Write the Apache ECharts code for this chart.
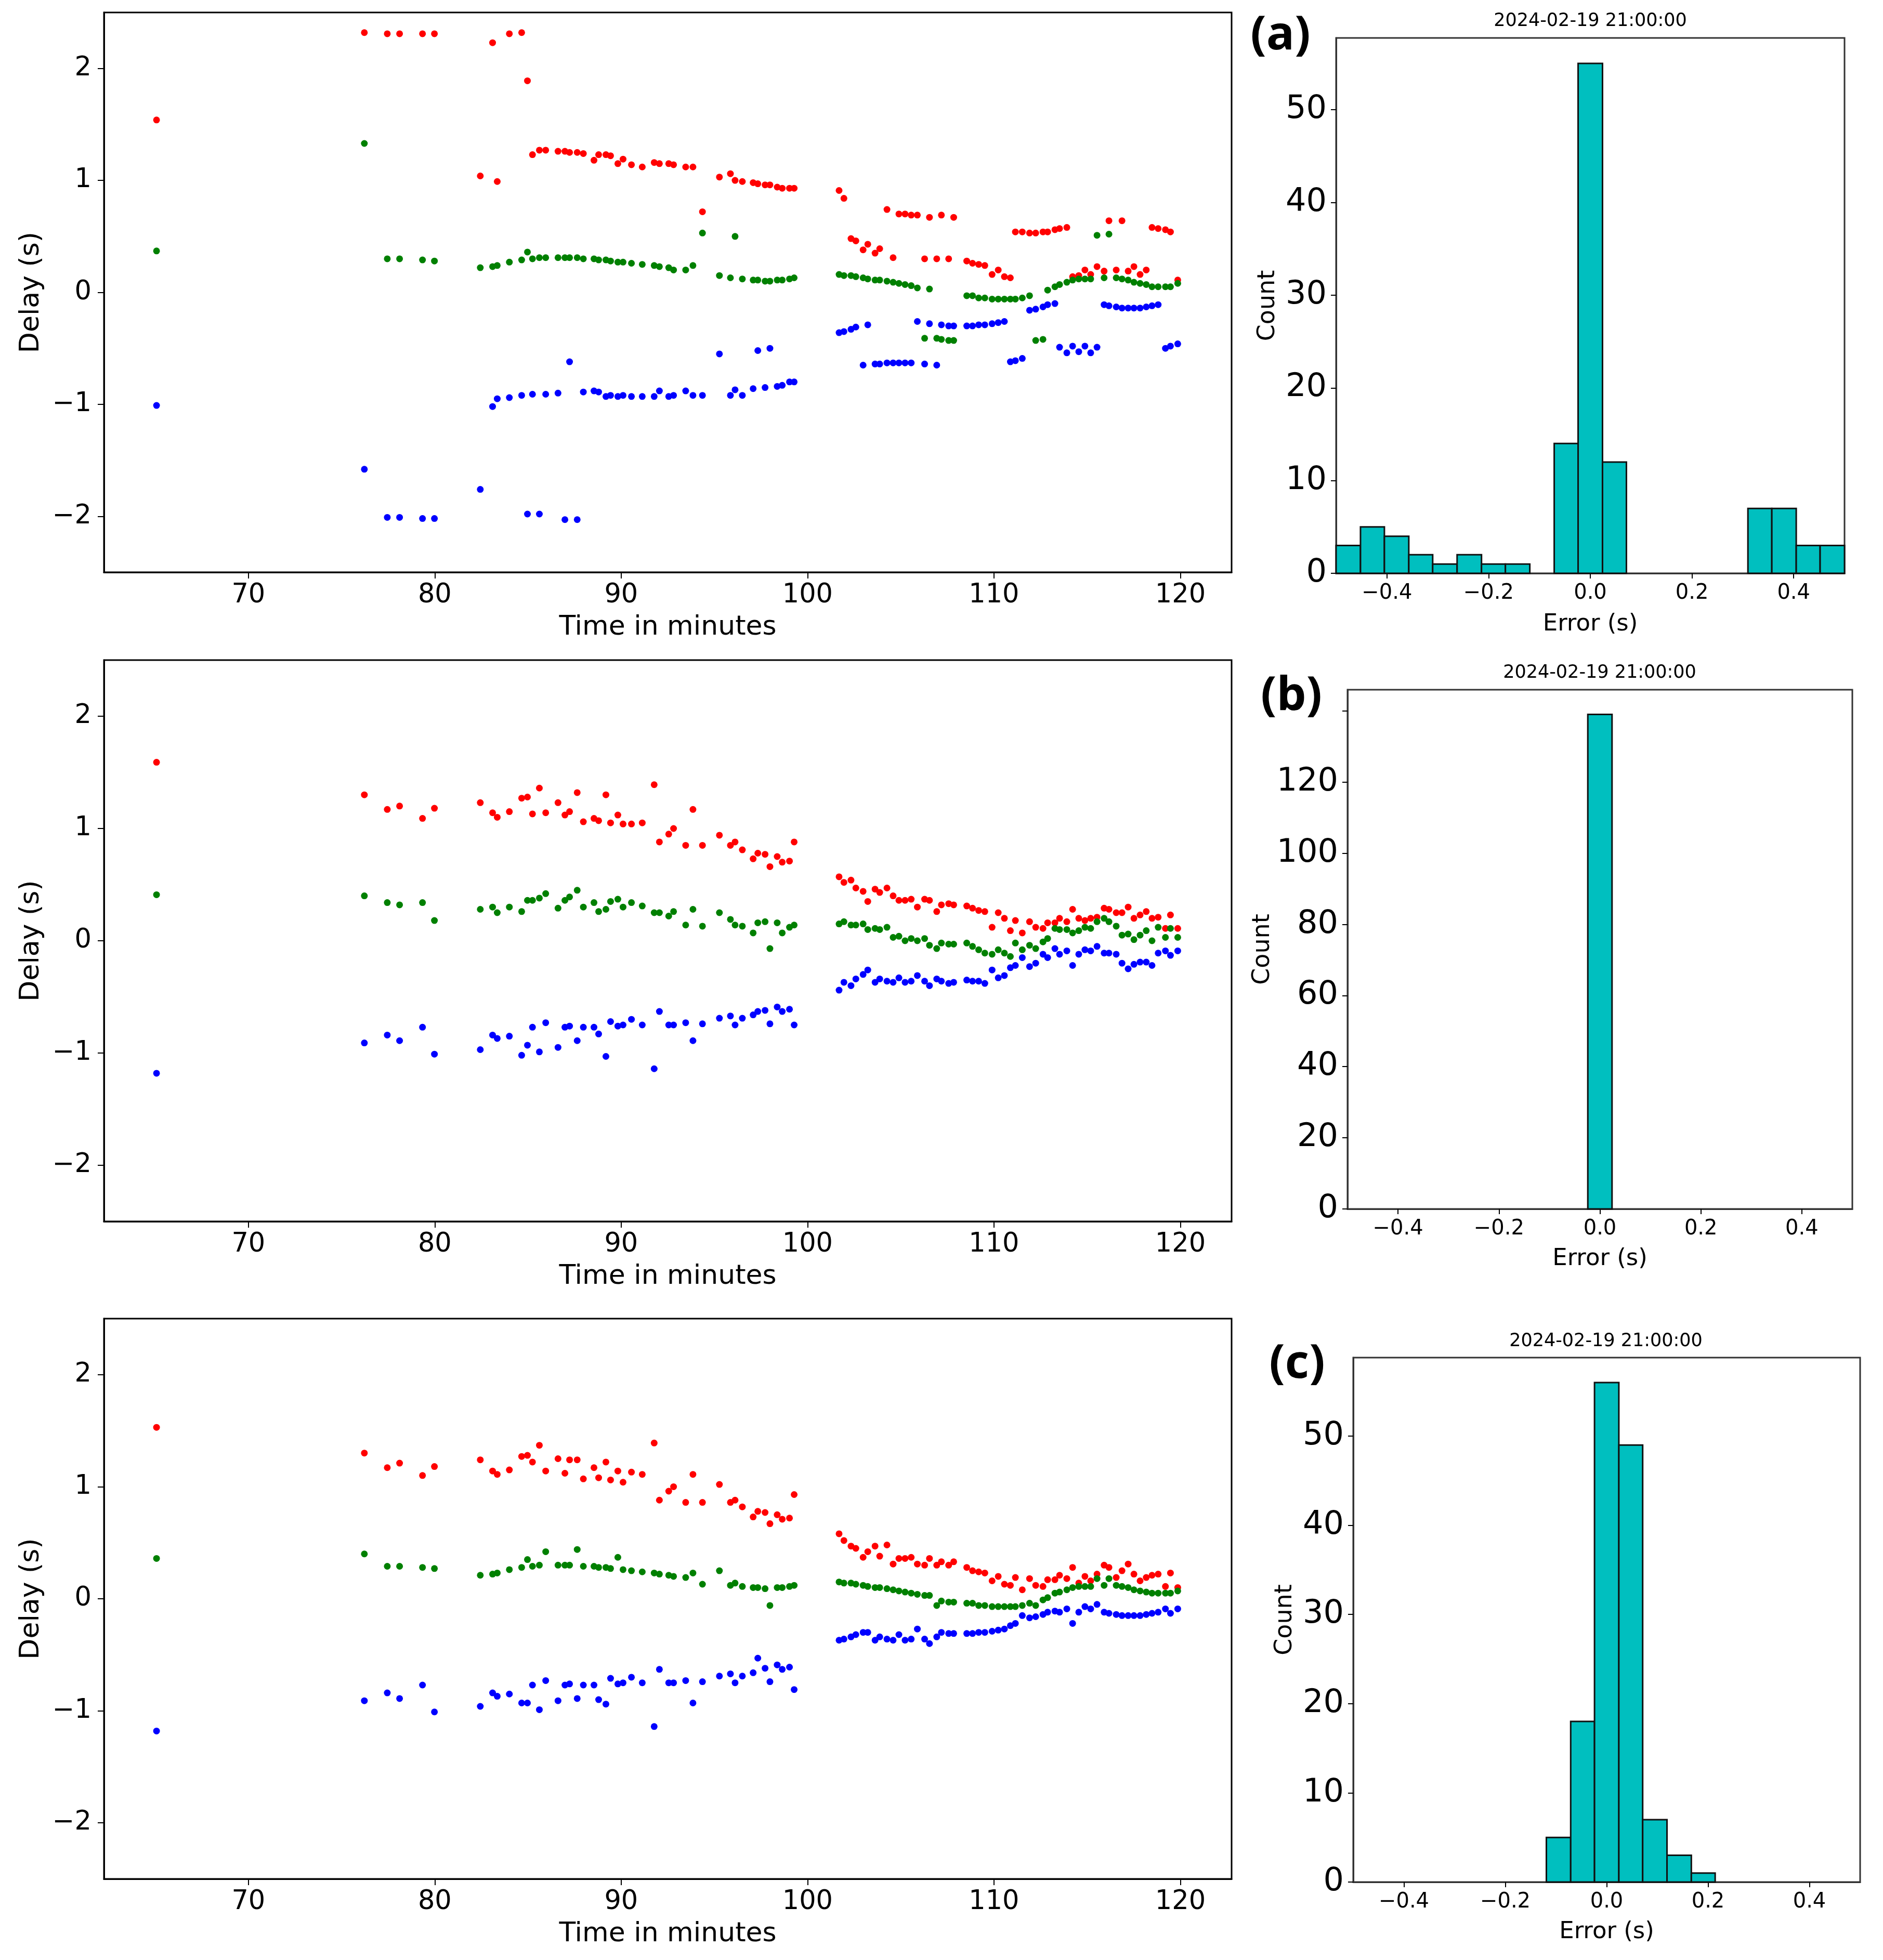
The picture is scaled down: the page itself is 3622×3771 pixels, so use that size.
<!DOCTYPE html>
<html>
<head>
    <meta charset="utf-8">
    <title>Delay and error</title>
    <script src="https://cdn.jsdelivr.net/npm/echarts@6/dist/echarts.min.js"></script>
    <style>
        html, body { margin: 0; padding: 0; background: #fff; }
        #main { width: 3622px; height: 3771px; }
    </style>
</head>
<body>
<div id="main"></div>
<script type="text/javascript">
    // time stamps (minutes), shared by every panel
    var time = [65.07,76.22,77.45,78.11,79.34,79.98,82.44,83.10,83.35,84.00,84.66,84.97,85.24,85.61,85.95,86.61,86.98,87.23,87.64,87.97,
        88.54,88.79,89.18,89.43,89.82,90.10,90.55,91.13,91.77,92.05,92.55,92.81,93.46,93.85,94.36,95.27,95.86,96.11,96.50,97.08,
        97.33,97.72,97.98,98.37,98.64,99.03,99.28,101.69,101.95,102.33,102.59,102.98,103.23,103.62,103.87,104.26,104.59,104.90,105.23,105.56,
        105.89,106.28,106.54,106.93,107.18,107.57,107.84,108.54,108.85,109.18,109.51,109.90,110.23,110.56,110.88,111.15,111.52,111.91,112.24,112.63,
        112.88,113.27,113.52,113.91,114.22,114.55,114.88,115.19,115.53,115.91,116.17,116.56,116.87,117.20,117.51,117.84,118.17,118.48,118.81,119.20,
        119.47,119.86];

    // panel (a)
    var red1 = [1.54,2.32,2.31,2.31,2.31,2.31,1.04,2.23,0.99,2.31,2.32,1.89,1.23,1.27,1.27,1.26,1.26,1.25,1.25,1.24,
        1.18,1.23,1.23,1.22,1.15,1.19,1.14,1.12,1.16,1.15,1.15,1.14,1.12,1.12,0.72,1.03,1.06,1.00,0.99,0.98,
        0.97,0.96,0.96,0.94,0.93,0.93,0.93,0.91,0.84,0.48,0.46,0.38,0.43,0.35,0.39,0.74,0.31,0.70,0.70,0.69,
        0.69,0.30,0.67,0.30,0.69,0.30,0.67,0.28,0.26,0.25,0.24,0.16,0.20,0.14,0.13,0.54,0.54,0.53,0.53,0.54,
        0.54,0.56,0.57,0.58,0.14,0.15,0.20,0.16,0.23,0.19,0.64,0.20,0.64,0.19,0.23,0.16,0.20,0.58,0.57,0.56,
        0.54,0.11];
    var green1 = [0.37,1.33,0.30,0.30,0.29,0.28,0.22,0.23,0.24,0.27,0.29,0.36,0.30,0.31,0.31,0.31,0.31,0.31,0.31,0.30,
        0.30,0.29,0.29,0.28,0.27,0.27,0.26,0.25,0.24,0.23,0.22,0.20,0.20,0.24,0.53,0.15,0.13,0.50,0.12,0.11,
        0.11,0.10,0.10,0.11,0.11,0.12,0.13,0.16,0.15,0.15,0.14,0.13,0.12,0.11,0.11,0.10,0.09,0.08,0.07,0.06,
        0.04,-0.41,0.03,-0.41,-0.42,-0.43,-0.43,-0.03,-0.03,-0.05,-0.05,-0.06,-0.06,-0.06,-0.06,-0.06,-0.05,-0.03,-0.43,-0.42,
        0.02,0.05,0.07,0.09,0.11,0.12,0.12,0.12,0.51,0.13,0.52,0.13,0.12,0.11,0.09,0.08,0.07,0.05,0.05,0.05,
        0.05,0.08];
    var blue1 = [-1.01,-1.58,-2.01,-2.01,-2.02,-2.02,-1.76,-1.02,-0.95,-0.94,-0.92,-1.98,-0.91,-1.98,-0.91,-0.90,-2.03,-0.62,-2.03,-0.89,
        -0.88,-0.89,-0.93,-0.92,-0.93,-0.92,-0.93,-0.93,-0.93,-0.88,-0.93,-0.92,-0.88,-0.92,-0.92,-0.55,-0.92,-0.87,-0.92,-0.86,
        -0.52,-0.85,-0.50,-0.84,-0.83,-0.80,-0.80,-0.36,-0.35,-0.33,-0.31,-0.65,-0.29,-0.64,-0.64,-0.63,-0.63,-0.63,-0.63,-0.63,
        -0.26,-0.64,-0.28,-0.65,-0.29,-0.30,-0.30,-0.30,-0.30,-0.29,-0.29,-0.28,-0.27,-0.26,-0.62,-0.61,-0.59,-0.16,-0.15,-0.13,
        -0.11,-0.10,-0.49,-0.54,-0.48,-0.53,-0.48,-0.54,-0.49,-0.11,-0.12,-0.13,-0.14,-0.14,-0.14,-0.14,-0.13,-0.12,-0.11,-0.50,
        -0.48,-0.46];

    // panel (b)
    var red2 = [1.59,1.30,1.17,1.20,1.09,1.18,1.23,1.14,1.10,1.15,1.27,1.28,1.13,1.36,1.14,1.23,1.12,1.15,1.32,1.06,
        1.09,1.07,1.30,1.05,1.12,1.04,1.04,1.05,1.39,0.88,0.95,1.00,0.85,1.17,0.85,0.94,0.85,0.88,0.81,0.73,
        0.78,0.77,0.66,0.75,0.70,0.71,0.88,0.57,0.52,0.54,0.47,0.44,0.35,0.46,0.43,0.47,0.40,0.36,0.36,0.37,
        0.30,0.37,0.36,0.26,0.32,0.33,0.32,0.31,0.29,0.27,0.26,0.12,0.25,0.20,0.09,0.18,0.07,0.17,0.12,0.11,
        0.16,0.16,0.20,0.17,0.28,0.20,0.18,0.20,0.21,0.29,0.28,0.25,0.25,0.30,0.20,0.23,0.26,0.20,0.21,0.11,
        0.23,0.11];
    var green2 = [0.41,0.40,0.34,0.32,0.34,0.18,0.28,0.30,0.25,0.30,0.26,0.36,0.36,0.38,0.42,0.29,0.36,0.39,0.45,0.30,
        0.34,0.26,0.28,0.35,0.37,0.30,0.34,0.31,0.25,0.25,0.22,0.26,0.14,0.28,0.13,0.25,0.19,0.14,0.13,0.07,
        0.16,0.17,-0.07,0.16,0.07,0.12,0.14,0.15,0.17,0.14,0.14,0.15,0.10,0.11,0.10,0.12,0.03,0.04,0.00,0.02,
        0.00,0.02,-0.04,-0.07,-0.02,-0.03,-0.03,-0.02,-0.05,-0.08,-0.11,-0.12,-0.08,-0.11,-0.14,-0.02,-0.08,-0.04,-0.07,-0.01,
        0.02,0.11,0.10,0.10,0.07,0.09,0.12,0.11,0.17,0.20,0.17,0.13,0.05,0.06,0.01,0.05,0.09,0.00,0.12,0.03,
        0.11,0.03];
    var blue2 = [-1.18,-0.91,-0.84,-0.89,-0.77,-1.01,-0.97,-0.84,-0.87,-0.85,-1.02,-0.93,-0.77,-0.99,-0.73,-0.95,-0.77,-0.76,-0.89,-0.77,
        -0.77,-0.83,-1.03,-0.72,-0.76,-0.75,-0.70,-0.75,-1.14,-0.63,-0.75,-0.75,-0.73,-0.89,-0.74,-0.69,-0.67,-0.75,-0.69,-0.66,
        -0.63,-0.62,-0.74,-0.59,-0.63,-0.61,-0.75,-0.44,-0.37,-0.40,-0.34,-0.30,-0.26,-0.37,-0.34,-0.36,-0.37,-0.33,-0.37,-0.36,
        -0.31,-0.36,-0.40,-0.34,-0.36,-0.38,-0.37,-0.35,-0.36,-0.36,-0.38,-0.26,-0.33,-0.31,-0.24,-0.22,-0.15,-0.23,-0.20,-0.12,
        -0.15,-0.07,-0.12,-0.09,-0.22,-0.12,-0.08,-0.09,-0.05,-0.11,-0.11,-0.12,-0.20,-0.25,-0.21,-0.19,-0.19,-0.22,-0.11,-0.09,
        -0.13,-0.09];

    // panel (c)
    var red3 = [1.53,1.30,1.17,1.21,1.10,1.18,1.24,1.14,1.11,1.15,1.27,1.28,1.22,1.37,1.14,1.25,1.12,1.24,1.24,1.07,
        1.17,1.08,1.22,1.06,1.14,1.04,1.13,1.11,1.39,0.88,0.96,1.00,0.86,1.11,0.86,1.02,0.86,0.88,0.82,0.73,
        0.78,0.77,0.67,0.75,0.71,0.72,0.93,0.58,0.52,0.47,0.45,0.37,0.42,0.47,0.38,0.48,0.31,0.36,0.36,0.37,
        0.31,0.30,0.36,0.30,0.33,0.30,0.33,0.28,0.25,0.24,0.23,0.16,0.20,0.13,0.12,0.19,0.08,0.18,0.12,0.11,
        0.17,0.17,0.21,0.18,0.28,0.14,0.20,0.16,0.22,0.30,0.28,0.19,0.25,0.31,0.22,0.16,0.19,0.21,0.22,0.11,
        0.23,0.10];
    var green3 = [0.36,0.40,0.29,0.29,0.28,0.27,0.21,0.22,0.23,0.26,0.28,0.35,0.29,0.30,0.42,0.30,0.30,0.30,0.44,0.29,
        0.29,0.28,0.28,0.27,0.37,0.26,0.25,0.24,0.23,0.22,0.21,0.20,0.19,0.23,0.13,0.25,0.12,0.14,0.11,0.10,
        0.10,0.09,-0.06,0.10,0.10,0.11,0.12,0.15,0.14,0.14,0.13,0.12,0.11,0.10,0.10,0.09,0.08,0.07,0.06,0.05,
        0.04,0.03,0.03,-0.06,-0.02,-0.03,-0.03,-0.04,-0.04,-0.06,-0.06,-0.07,-0.07,-0.07,-0.07,-0.07,-0.06,-0.04,-0.06,-0.01,
        0.01,0.05,0.06,0.08,0.10,0.11,0.11,0.11,0.18,0.12,0.18,0.12,0.11,0.10,0.08,0.07,0.06,0.05,0.05,0.05,
        0.05,0.07];
    var blue3 = [-1.18,-0.91,-0.84,-0.89,-0.77,-1.01,-0.96,-0.84,-0.87,-0.85,-0.93,-0.93,-0.77,-0.99,-0.73,-0.91,-0.77,-0.76,-0.89,-0.77,
        -0.77,-0.90,-0.94,-0.71,-0.76,-0.75,-0.70,-0.75,-1.14,-0.63,-0.75,-0.75,-0.73,-0.93,-0.74,-0.69,-0.67,-0.75,-0.69,-0.66,
        -0.53,-0.62,-0.74,-0.59,-0.63,-0.61,-0.81,-0.37,-0.36,-0.34,-0.32,-0.30,-0.30,-0.37,-0.34,-0.36,-0.37,-0.32,-0.37,-0.36,
        -0.27,-0.36,-0.40,-0.34,-0.30,-0.31,-0.31,-0.31,-0.31,-0.30,-0.30,-0.29,-0.28,-0.27,-0.24,-0.22,-0.15,-0.17,-0.16,-0.14,
        -0.12,-0.11,-0.12,-0.09,-0.22,-0.12,-0.07,-0.09,-0.05,-0.12,-0.13,-0.14,-0.15,-0.15,-0.15,-0.15,-0.14,-0.13,-0.12,-0.09,
        -0.13,-0.09];

    // histogram bins (21 equal bins over [-0.5, 0.5]) and counts
    var binEdges = [-0.5,-0.452,-0.405,-0.357,-0.310,-0.262,-0.214,-0.167,-0.119,-0.071,-0.024,
        0.024,0.071,0.119,0.167,0.214,0.262,0.310,0.357,0.405,0.452,0.5];
    var histA = [3,5,4,2,1,2,1,1,0,14,55,12,0,0,0,0,0,7,7,3,3];
    var histB = [0,0,0,0,0,0,0,0,0,0,139,0,0,0,0,0,0,0,0,0,0];
    var histC = [0,0,0,0,0,0,0,0,5,18,56,49,7,3,1,0,0,0,0,0,0];

    // tick labels
    var timeTicks = [70, 80, 90, 100, 110, 120];
    var delayTicks = [-2, -1, 0, 1, 2];
    var errorTicks = [-0.4, -0.2, 0, 0.2, 0.4];
    var countTicksA = [0, 10, 20, 30, 40, 50];
    var countTicksB = [0, 20, 40, 60, 80, 100, 120, 140];
    var countLabelsB = [0, 20, 40, 60, 80, 100, 120];
    var countTicksC = [0, 10, 20, 30, 40, 50];

    var titleText = '2024-02-19 21:00:00';
    var FONT = 'DejaVu Sans';

    var myChart = echarts.init(document.getElementById('main'));

    function minus(v) { return String(v).replace('-', '\u2212'); }

    var scatterPanels = [
        { grid: { left: 200, top: 24, width: 2169, height: 1077 }, red: red1, green: green1, blue: blue1 },
        { grid: { left: 200, top: 1270, width: 2169, height: 1080 }, red: red2, green: green2, blue: blue2 },
        { grid: { left: 200, top: 2537, width: 2169, height: 1078 }, red: red3, green: green3, blue: blue3 }
    ];
    var histPanels = [
        { grid: { left: 2570, top: 73, width: 978, height: 1030 }, counts: histA, ymax: 57.75, ticks: countTicksA, labels: countTicksA, xGap: 76, yGap: 108 },
        { grid: { left: 2592, top: 1327, width: 971, height: 999 }, counts: histB, ymax: 145.95, ticks: countTicksB, labels: countLabelsB, xGap: 74, yGap: 140 },
        { grid: { left: 2603, top: 2612, width: 975, height: 1009 }, counts: histC, ymax: 58.8, ticks: countTicksC, labels: countTicksC, xGap: 74, yGap: 108 }
    ];

    var grids = [], xAxes = [], yAxes = [], series = [];

    scatterPanels.forEach(function (p) {
        var gi = grids.length;
        grids.push(Object.assign({ show: true, borderColor: '#000', borderWidth: 3 }, p.grid));
        xAxes.push({
            type: 'value', gridIndex: gi, min: 62.25, max: 122.75,
            name: 'Time in minutes', nameLocation: 'middle', nameGap: 80,
            nameTextStyle: { fontFamily: FONT, fontSize: 52, color: '#000' },
            axisLine: { onZero: false, lineStyle: { color: '#000', width: 3 } },
            axisTick: { inside: false, length: 12, lineStyle: { color: '#000', width: 2 }, customValues: timeTicks },
            axisLabel: { fontFamily: FONT, fontSize: 51, color: '#000', margin: 19, customValues: timeTicks },
            splitLine: { show: false }
        });
        yAxes.push({
            type: 'value', gridIndex: gi, min: -2.5, max: 2.5,
            name: 'Delay (s)', nameLocation: 'middle', nameGap: 114,
            nameTextStyle: { fontFamily: FONT, fontSize: 52, color: '#000' },
            axisLine: { onZero: false, lineStyle: { color: '#000', width: 3 } },
            axisTick: { inside: false, length: 12, lineStyle: { color: '#000', width: 2 }, customValues: delayTicks },
            axisLabel: { fontFamily: FONT, fontSize: 51, color: '#000', margin: 24, customValues: delayTicks, formatter: minus },
            splitLine: { show: false }
        });
        [['#ff0000', p.red], ['#008000', p.green], ['#0000ff', p.blue]].forEach(function (s) {
            series.push({
                type: 'scatter', xAxisIndex: gi, yAxisIndex: gi,
                symbol: 'circle', symbolSize: 13,
                itemStyle: { color: s[0], opacity: 1 },
                data: time.map(function (t, i) { return [t, s[1][i]]; }),
                silent: true, animation: false
            });
        });
    });

    function renderBin(params, api) {
        var c = api.value(2);
        if (!c) return null;
        var p0 = api.coord([api.value(0), c]);
        var p1 = api.coord([api.value(1), 0]);
        return {
            type: 'rect',
            shape: { x: p0[0], y: p0[1], width: p1[0] - p0[0], height: p1[1] - p0[1] },
            style: { fill: '#00bfbf', stroke: '#111', lineWidth: 3 }
        };
    }

    histPanels.forEach(function (p) {
        var gi = grids.length;
        grids.push(Object.assign({ show: true, borderColor: '#333', borderWidth: 3 }, p.grid));
        xAxes.push({
            type: 'value', gridIndex: gi, min: -0.5, max: 0.5,
            name: 'Error (s)', nameLocation: 'middle', nameGap: p.xGap,
            nameTextStyle: { fontFamily: FONT, fontSize: 45, color: '#000' },
            axisLine: { onZero: false, lineStyle: { color: '#333', width: 3 } },
            axisTick: { inside: false, length: 10, lineStyle: { color: '#000', width: 2 }, customValues: errorTicks },
            axisLabel: {
                fontFamily: FONT, fontSize: 40, color: '#000', margin: 19, customValues: errorTicks,
                formatter: function (v) { return minus(Number(v).toFixed(1)); }
            },
            splitLine: { show: false }
        });
        yAxes.push({
            type: 'value', gridIndex: gi, min: 0, max: p.ymax,
            name: 'Count', nameLocation: 'middle', nameGap: p.yGap,
            nameTextStyle: { fontFamily: FONT, fontSize: 46, color: '#000' },
            axisLine: { onZero: false, lineStyle: { color: '#333', width: 3 } },
            axisTick: { inside: false, length: 10, lineStyle: { color: '#000', width: 2 }, customValues: p.ticks },
            axisLabel: { fontFamily: FONT, fontSize: 62, color: '#000', margin: 18, customValues: p.labels },
            splitLine: { show: false }
        });
        series.push({
            type: 'custom', xAxisIndex: gi, yAxisIndex: gi,
            renderItem: renderBin,
            encode: { x: [0, 1], y: 2 },
            data: p.counts.map(function (c, i) { return [binEdges[i], binEdges[i + 1], c]; }),
            silent: true, animation: false
        });
    });

    var labels = [
        { t: titleText, x: 3059, y: 41, size: 35, weight: 'normal', font: FONT },
        { t: titleText, x: 3077, y: 1295, size: 35, weight: 'normal', font: FONT },
        { t: titleText, x: 3089, y: 2581, size: 35, weight: 'normal', font: FONT },
        { t: '(a)', x: 2463, y: 69, size: 90, weight: 'bold', font: 'Open Sans' },
        { t: '(b)', x: 2484, y: 1340, size: 90, weight: 'bold', font: 'Open Sans' },
        { t: '(c)', x: 2495, y: 2625, size: 90, weight: 'bold', font: 'Open Sans' }
    ];

    myChart.setOption({
        backgroundColor: '#fff',
        animation: false,
        grid: grids,
        xAxis: xAxes,
        yAxis: yAxes,
        series: series,
        graphic: labels.map(function (l) {
            return {
                type: 'text', x: l.x, y: l.y, silent: true,
                style: {
                    text: l.t, fill: '#000', fontSize: l.size, fontWeight: l.weight, fontFamily: l.font,
                    textAlign: 'center', textVerticalAlign: 'middle'
                }
            };
        })
    });
</script>
</body>
</html>
